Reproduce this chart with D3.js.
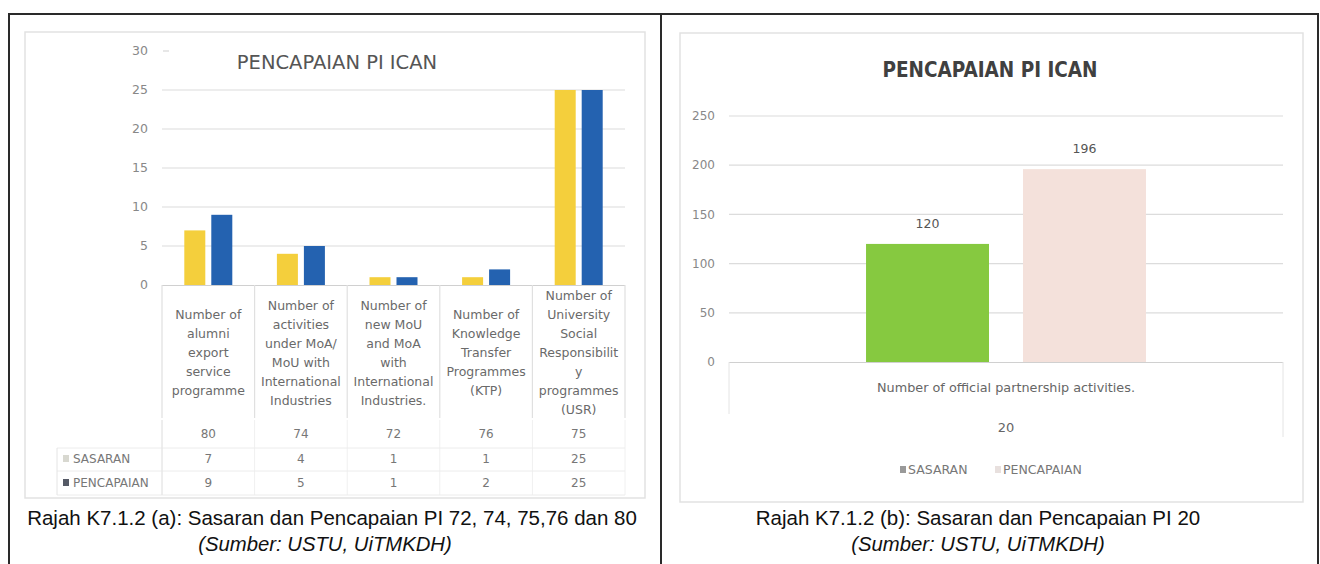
<!DOCTYPE html>
<html>
<head>
<title>Pencapaian PI ICAN</title>
<script src="https://d3js.org/d3.v7.min.js"></script>
<style type="text/css">
	body{ margin:0; background:#fff; }
	.xl_text{ font-family:"DejaVu Sans",sans-serif; fill:#666; }
	.xl_cond{ font-family:"DejaVu Sans Condensed","DejaVu Sans",sans-serif; font-stretch:condensed; }
	.caption{ font-family:"Liberation Sans",Arial,sans-serif; fill:#111; }
</style>
</head>
<body>
<div id="chart"></div>
<script type="text/javascript">
// data (left chart: PI 72,74,75,76,80)
var categories = [
	["Number of","alumni","export","service","programme"],
	["Number of","activities","under MoA/","MoU with","International","Industries"],
	["Number of","new MoU","and MoA","with","International","Industries."],
	["Number of","Knowledge","Transfer","Programmes","(KTP)"],
	["Number of","University","Social","Responsibilit","y","programmes","(USR)"]
];
var piCodes = ["80","74","72","76","75"];
var sasaran = [7,4,1,1,25];
var pencapaian = [9,5,1,2,25];
var seriesNames = ["SASARAN","PENCAPAIAN"];
var leftTicks = [0,5,10,15,20,25,30];

// data (right chart: PI 20)
var partCategory = ["Number of official partnership activities."];
var partCode = ["20"];
var partSasaran = [120];
var partPencapaian = [196];
var rightTicks = [0,50,100,150,200,250];

var svg = d3.select("#chart").append("svg")
	.attr("width",1320).attr("height",564)
	.style("background-color","#fff");

// outer table frame
svg.append("path")
	.attr("d","M9,564 V14 H1318 V564 M661,14 V564")
	.attr("fill","none").attr("stroke","#2a2a2a").attr("stroke-width",2);

// chart frames
svg.append("rect").attr("x",25).attr("y",32).attr("width",620).attr("height",466)
	.attr("fill","none").attr("stroke","#e2e2e2").attr("stroke-width",1.5);
svg.append("rect").attr("x",680).attr("y",33).attr("width",623).attr("height",469)
	.attr("fill","none").attr("stroke","#e2e2e2").attr("stroke-width",1.5);

// ---------------- left chart ----------------
var yL = d3.scaleLinear().domain([0,30]).range([285,51]);
var xL = d3.scaleBand().domain(d3.range(categories.length)).range([162,625]);
var xLs = d3.scaleBand().domain(seriesNames).range([0,xL.bandwidth()]).paddingInner(0.222).paddingOuter(0.826);
var colL = d3.scaleOrdinal().domain(seriesNames).range(["#f4cf3c","#2462b0"]);

var gL = svg.append("g");
gL.selectAll("line.grid").data(leftTicks.filter(function(t){ return t>0 && t<30; })).enter()
	.append("line").attr("class","grid")
	.attr("x1",162).attr("x2",625)
	.attr("y1",function(d){ return yL(d); }).attr("y2",function(d){ return yL(d); })
	.attr("stroke","#dcdcdc").attr("stroke-width",1.2);
// 30 line is hidden behind the title, only a short stub shows
gL.append("line").attr("x1",163).attr("x2",169).attr("y1",yL(30)).attr("y2",yL(30))
	.attr("stroke","#cfcfcf");
gL.selectAll("text.ytick").data(leftTicks).enter()
	.append("text").attr("class","xl_text")
	.attr("x",148).attr("y",function(d){ return yL(d); }).attr("dy","0.35em")
	.attr("text-anchor","end").style("font-size","12.5px").style("fill","#888")
	.text(function(d){ return d; });

gL.append("text").attr("class","xl_text")
	.attr("x",337).attr("y",69).attr("text-anchor","middle")
	.style("font-size","19.5px").style("fill","#555")
	.text("PENCAPAIAN PI ICAN");

var rowsL = categories.map(function(c,i){ return {i:i, vals:[sasaran[i],pencapaian[i]]}; });
gL.selectAll("g.cat").data(rowsL).enter().append("g").attr("class","cat")
	.attr("transform",function(d){ return "translate("+xL(d.i)+",0)"; })
	.selectAll("rect").data(function(d){ return d.vals.map(function(v,k){ return {s:seriesNames[k],v:v}; }); })
	.enter().append("rect")
	.attr("x",function(d){ return xLs(d.s); })
	.attr("width",xLs.bandwidth())
	.attr("y",function(d){ return yL(d.v); })
	.attr("height",function(d){ return yL(0)-yL(d.v); })
	.attr("fill",function(d){ return colL(d.s); });

// data table
var bounds = xL.domain().map(function(i){ return xL(i); }).concat([625]);
gL.append("line").attr("x1",162).attr("x2",625).attr("y1",285.5).attr("y2",285.5).attr("stroke","#d0d0d0");
gL.selectAll("line.vsep").data(bounds).enter().append("line")
	.attr("x1",function(d){ return d; }).attr("x2",function(d){ return d; })
	.attr("y1",285).attr("y2",418).attr("stroke","#e0e0e0").attr("stroke-width",1.2);
gL.selectAll("line.vsep2").data(bounds).enter().append("line")
	.attr("x1",function(d){ return d; }).attr("x2",function(d){ return d; })
	.attr("y1",420).attr("y2",495).attr("stroke","#f0f0f0");
[448,471,495].forEach(function(y){
	gL.append("line").attr("x1",57).attr("x2",625).attr("y1",y).attr("y2",y).attr("stroke","#ececec");
});
gL.append("path").attr("d","M57,448 V495 M162,420 V495").attr("stroke","#e4e4e4").attr("fill","none");

gL.selectAll("text.cat").data(categories).enter()
	.append("text").attr("class","xl_text").attr("text-anchor","middle")
	.style("font-size","12.5px").style("fill","#6a6a6a")
	.attr("transform",function(d,i){ return "translate("+(xL(i)+xL.bandwidth()/2)+","+(353-(d.length-1)*19/2)+")"; })
	.selectAll("tspan").data(function(d){ return d; }).enter()
	.append("tspan").attr("x",0).attr("dy",function(d,k){ return k==0 ? "0.35em" : 19; })
	.text(function(d){ return d; });

gL.selectAll("text.code").data(piCodes).enter()
	.append("text").attr("class","xl_text").attr("text-anchor","middle")
	.attr("x",function(d,i){ return xL(i)+xL.bandwidth()/2; }).attr("y",438)
	.style("font-size","12px").style("fill","#777").text(function(d){ return d; });
[sasaran,pencapaian].forEach(function(arr,k){
	gL.selectAll("text.v"+k).data(arr).enter()
		.append("text").attr("class","xl_text").attr("text-anchor","middle")
		.attr("x",function(d,i){ return xL(i)+xL.bandwidth()/2; }).attr("y",463+k*24)
		.style("font-size","12px").style("fill","#777").text(function(d){ return d; });
	gL.append("rect").attr("x",63).attr("y",455+k*24).attr("width",6).attr("height",7)
		.attr("fill",k==0 ? "#d8d8d0" : "#555a66");
	gL.append("text").attr("class","xl_text").attr("x",73).attr("y",463+k*24)
		.style("font-size","12px").style("fill","#777").text(seriesNames[k]);
});

svg.append("text").attr("class","caption").attr("x",332).attr("y",525).attr("text-anchor","middle")
	.style("font-size","20.5px").text("Rajah K7.1.2 (a): Sasaran dan Pencapaian PI 72, 74, 75,76 dan 80");
svg.append("text").attr("class","caption").attr("x",325).attr("y",551).attr("text-anchor","middle")
	.style("font-size","20.3px").style("font-style","italic").text("(Sumber: USTU, UiTMKDH)");

// ---------------- right chart ----------------
var yR = d3.scaleLinear().domain([0,250]).range([362,116]);
var xR = d3.scaleBand().domain(partCategory).range([729,1283]);
var xRs = d3.scaleBand().domain(seriesNames).range([0,xR.bandwidth()]).paddingInner(0.2166).paddingOuter(0.873);
var colR = d3.scaleOrdinal().domain(seriesNames).range(["#86c940","#f4e1db"]);

var gR = svg.append("g");
gR.selectAll("line.grid").data(rightTicks.filter(function(t){ return t>0; })).enter()
	.append("line").attr("x1",729).attr("x2",1283)
	.attr("y1",function(d){ return yR(d); }).attr("y2",function(d){ return yR(d); })
	.attr("stroke","#dcdcdc").attr("stroke-width",1.2);
gR.selectAll("text.ytick").data(rightTicks).enter()
	.append("text").attr("class","xl_text")
	.attr("x",715).attr("y",function(d){ return yR(d); }).attr("dy","0.35em")
	.attr("text-anchor","end").style("font-size","12px").style("fill","#888")
	.text(function(d){ return d; });

gR.append("text").attr("class","xl_text xl_cond")
	.attr("x",990).attr("y",77).attr("text-anchor","middle")
	.style("font-size","20.5px").style("font-weight","bold").style("fill","#404040")
	.text("PENCAPAIAN PI ICAN");

var rowsR = partCategory.map(function(c,i){ return {c:c, vals:[partSasaran[i],partPencapaian[i]]}; });
var barsR = gR.selectAll("g.cat").data(rowsR).enter().append("g")
	.attr("transform",function(d){ return "translate("+xR(d.c)+",0)"; })
	.selectAll("g").data(function(d){ return d.vals.map(function(v,k){ return {s:seriesNames[k],v:v}; }); })
	.enter().append("g");
barsR.append("rect")
	.attr("x",function(d){ return xRs(d.s); })
	.attr("width",xRs.bandwidth())
	.attr("y",function(d){ return yR(d.v); })
	.attr("height",function(d){ return yR(0)-yR(d.v); })
	.attr("fill",function(d){ return colR(d.s); });
barsR.append("text").attr("class","xl_text").attr("text-anchor","middle")
	.attr("x",function(d){ return xRs(d.s)+xRs.bandwidth()/2; })
	.attr("y",function(d){ return yR(d.v)-16; })
	.style("font-size","12.5px").style("fill","#555")
	.text(function(d){ return d.v; });

gR.append("line").attr("x1",729).attr("x2",1283).attr("y1",362.5).attr("y2",362.5).attr("stroke","#d0d0d0");
gR.append("path").attr("d","M729,362 V414 M1283,362 V437").attr("stroke","#e4e4e4").attr("fill","none");
gR.selectAll("text.cat").data(partCategory).enter()
	.append("text").attr("class","xl_text").attr("text-anchor","middle")
	.attr("x",function(d){ return xR(d)+xR.bandwidth()/2; }).attr("y",392)
	.style("font-size","12.8px").style("fill","#666").text(function(d){ return d; });
gR.selectAll("text.code").data(partCode).enter()
	.append("text").attr("class","xl_text").attr("text-anchor","middle")
	.attr("x",function(d,i){ return xR(partCategory[i])+xR.bandwidth()/2; }).attr("y",432)
	.style("font-size","13px").style("fill","#666").text(function(d){ return d; });

// legend
var legR = gR.selectAll("g.leg").data(seriesNames).enter().append("g")
	.attr("transform",function(d,i){ return "translate("+(i==0 ? 900 : 995)+",470)"; });
legR.append("rect").attr("x",0).attr("y",-4).attr("width",6).attr("height",7)
	.attr("fill",function(d,i){ return i==0 ? "#999" : "#e8e0de"; });
legR.append("text").attr("class","xl_text").attr("x",8).attr("dy","0.35em")
	.style("font-size","12.5px").style("fill","#777").text(function(d){ return d; });

svg.append("text").attr("class","caption").attr("x",978).attr("y",525).attr("text-anchor","middle")
	.style("font-size","20.5px").text("Rajah K7.1.2 (b): Sasaran dan Pencapaian PI 20");
svg.append("text").attr("class","caption").attr("x",978).attr("y",551).attr("text-anchor","middle")
	.style("font-size","20.3px").style("font-style","italic").text("(Sumber: USTU, UiTMKDH)");
</script>
</body>
</html>
